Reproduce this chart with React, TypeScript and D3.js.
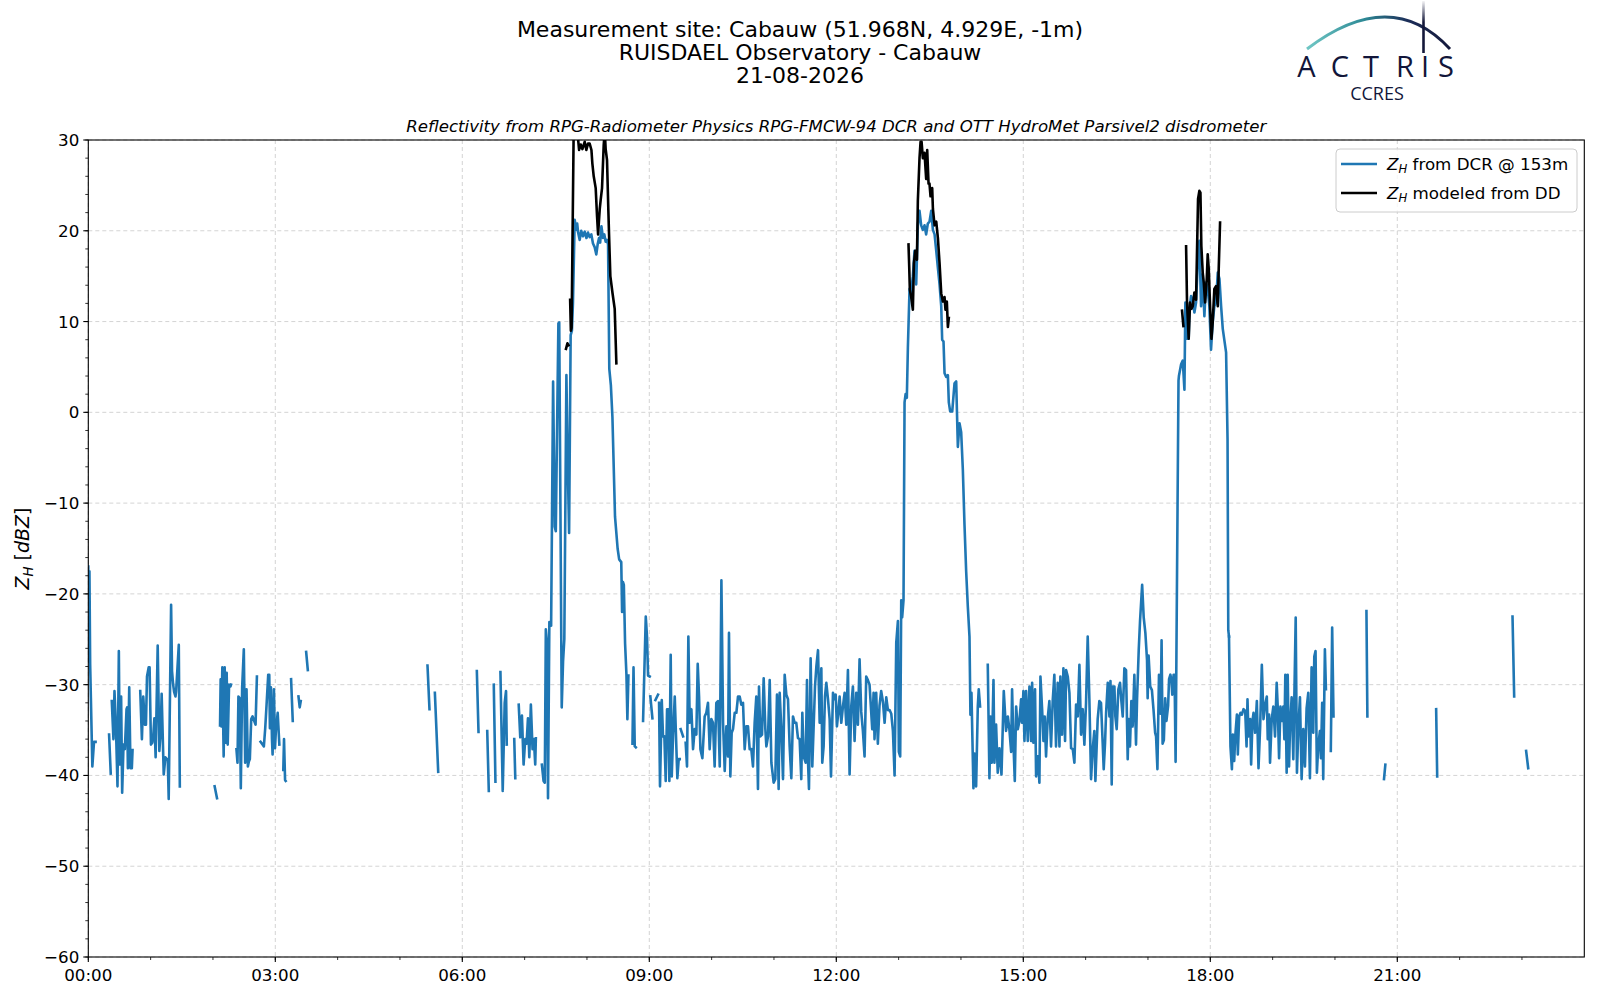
import React from "react";
import * as d3 from "d3";

type Pt = [number, number | null];

// ---------- text ----------
const titleLines = [
  "Measurement site: Cabauw (51.968N, 4.929E, -1m)",
  "RUISDAEL Observatory - Cabauw",
  "21-08-2026",
];
const subtitle =
  "Reflectivity from RPG-Radiometer Physics RPG-FMCW-94 DCR and OTT HydroMet Parsivel2 disdrometer";

// ---------- axes ----------
const xTickHours = [0, 3, 6, 9, 12, 15, 18, 21];
const xMinorHours = d3.range(0, 24, 1);
const yMajorTicks = [-60, -50, -40, -30, -20, -10, 0, 10, 20, 30];
const yMinorTicks = d3.range(-60, 31, 2);

// ---------- data: [minutes since 00:00 UTC, dBZ]  (null = gap) ----------
const dcrNight: Pt[] = [
  [0, -17], [0.6, -27.5], [1.1, -17.5], [1.8, -27.8], [3.9, -39], [5.5, -36.3], [7, -36.3], [8, null],
  [20, -35.5], [21.6, -39.8], [22, null],
  [22.6, -31.8], [24.2, -36], [25.2, -30.7], [26.5, -34.2], [28.1, -41.2], [29.4, -26.3], [30.3, -38.8],
  [31.6, -31.3], [32.6, -41.9], [33.9, -36.6], [35.2, -37.1], [36.8, -32.7], [37.4, -32.5], [38.1, -39.2],
  [39.4, -30.3], [40.6, -39.2], [41.9, -39.2], [42.6, -37.2], [45, null],
  [50, -30.7], [51.6, -36], [52.9, -31.3], [54.5, -34.4], [55.5, -34.4], [56.5, -29.1], [58.1, -28.1],
  [59, -28.1], [60.3, -36.6], [61.6, -36.4], [62.6, -35.5], [63.6, -33.7], [64.8, -38], [66.8, -25.7],
  [68.4, -37.3], [69.7, -35], [70.6, -31], [72.6, -39.9], [74.2, -38], [76.5, -38.3], [77.4, -42.6],
  [79.7, -21.2], [80.6, -28.5], [81.6, -29.9], [82.6, -30.8], [83.9, -31.3], [84.5, -30.8], [87.1, -25.6],
  [88.1, -41.2], [90, null],
  [121.6, -41.2], [123.9, -42.5], [125, null],
  [126.8, -34.5], [127.4, -29.4], [128.1, -34.6], [129, -28.1], [130.3, -37.9], [131.3, -28.1], [132.3, -36.4],
  [133.2, -28.7], [134.2, -36.6], [135.5, -30], [136.8, -30.2], [137.4, -30], [140, null],
  [142.6, -37.1], [143.6, -38.6], [144.5, -31.3], [145.8, -31.5], [146.8, -41.4], [148.1, -30.3], [149.7, -26.1],
  [151, -38.6], [152.3, -30.5], [153.6, -39], [154.5, -38.5], [155.5, -38.2], [156.8, -33.8], [158.1, -33.5],
  [161, -34.4], [162.3, -29.1], [164, null],
  [165.8, -36.3], [167.7, -36.6], [169, -36.8], [170.3, -34.8], [171.6, -32.2], [173.2, -28.9], [174.2, -28.9],
  [174.8, -34.8], [175.8, -30.3], [176.8, -36], [177.4, -37.7], [178.7, -30.5], [179.7, -37], [180.6, -35],
  [182.3, -33.1], [183.9, -36.6], [186, null],
  [187.7, -39.4], [188.4, -36], [189.4, -40.5], [190, -40.6], [192, null],
  [195.2, -29.4], [196.8, -34], [198, null],
  [202.3, -31.3], [203.5, -32.5], [204.5, -31.8], [206, null],
  [209.7, -26.4], [211.3, -28.4], [213, null],
];

const dcrMorning: Pt[] = [
  [326.5, -27.9], [328.4, -32.7], [330, null],
  [333.6, -30.9], [336.8, -39.6], [338, null],
  [374, -28.5], [375.6, -35.2], [377, null],
  [384, -35.1], [385.5, -41.7], [387, null],
  [390.3, -30], [391.9, -40.7], [393, null],
  [396.7, -28.6], [398.9, -41.7], [400.8, -32], [402.1, -30.7], [402.8, -36.6], [405, null],
  [410, -36], [411, -40.3], [412, null],
  [414.3, -32.2], [415.8, -35.8], [417.4, -33.4], [419, -38.8], [420.6, -36], [421.9, -36.5], [423.2, -33.7],
  [424.5, -38], [426, -32.2], [427.6, -37.1], [428.9, -36], [430.2, -38.8], [430.8, -35.9], [433, null],
  [436.6, -38.8], [438.2, -40.6], [439.4, -40.8], [440.4, -23.9], [441.5, -25.3], [442.5, -42.5], [443.8, -23.1],
  [445.5, -23.5], [447.4, 3.4], [449, -12.6], [450, -13.1], [452.5, 9.8], [453.3, 9.9], [455.7, -32.5],
  [457, -27.4], [458.2, -25], [460.2, 4.1], [461.3, -4.5], [462.8, -13.3], [464.3, 8.5], [465.5, 9], [466.5, 12],
  [468.2, 21.2], [469.8, 20.1], [470.6, 20.8], [471.5, 19.8], [473, 19], [474.5, 20], [476.2, 19.4], [477.8, 19.9],
  [479.5, 19.2], [481, 19.8], [482.6, 19.3], [484.2, 19.6], [485.8, 18.6], [487.4, 18.2], [489, 17.4],
  [490.3, 18.5], [491.6, 19.2], [492.7, 18.7], [493.9, 20.5], [495.4, 19.2], [496.7, 19.6], [498, 18.8],
  [499.2, 19], [500.3, 18.5], [501.5, 4.8], [503, 3], [504.5, -0.5], [507, -11.5], [509.5, -15], [511, -16.2],
  [513, -16.5], [513.8, -22], [514.7, -18.7], [515.5, -19], [516.7, -25.5], [518, -28.9], [518.9, -33.8],
  [519.9, -29], [521, null],
  [523.8, -36.5], [524.8, -28.1], [526, -36.8], [527, -36.9], [529, null],
  [534, -34], [536.6, -22.5], [537.8, -24.7], [538.8, -29], [540.4, -29.1], [540.7, null],
  [541, -31.3], [543, -33.7], [544, null],
  [545.9, -31.7], [548.4, -31.1], [548.9, null],
];

const dcrMidday: Pt[] = [
  [549.4, -32], [550.3, -41.2], [552, -31.7], [553.2, -35.7], [554.5, -35.7], [555.8, -40.6], [557.1, -32.7],
  [558.4, -32.7], [559.3, -40.6], [560.6, -26.7], [561.6, -40.1], [562.9, -35.5], [564.5, -31.3], [566.1, -37.1],
  [567, -40.3], [568.3, -38.2], [569.3, -38.2], [569.8, null],
  [570.2, -34.9], [572.5, -35.7], [573.5, null],
  [575, -36.4], [576.3, -39], [577.6, -24.7], [578.9, -34.2], [580.5, -32.7], [582.1, -37.1], [583.7, -34.9],
  [585.3, -35.5], [586.6, -27.7], [587.9, -31.3], [589.2, -37.1], [591.1, -38.1], [593.3, -33.5], [594.9, -33.1],
  [596.5, -32], [598.1, -37.1], [599.7, -33.8], [601.3, -34.2], [602.9, -39], [604.5, -32], [606.1, -31.8],
  [607.8, -39], [609.4, -18.5], [611, -34.2], [612.6, -39.5], [614.2, -34.6], [615.8, -37.9], [616.7, -24.3],
  [618, -40.1], [619.3, -35.3], [620.6, -34.9], [622.2, -33.1], [623.8, -33.1], [625.4, -31.3], [627, -31.3],
  [628.6, -32.2], [630.2, -32], [631.8, -37.1], [633.4, -34.6], [635, -34.6], [636.6, -37.1], [638.2, -37.1],
  [639.8, -39], [641.4, -34.2], [643, -31.3], [644.6, -41.5], [645.6, -30.2], [646.9, -35.7], [648.5, -35.5],
  [650.1, -29.3], [651.7, -34.9], [652.7, -36.8], [654.3, -35.7], [655.9, -29.5], [657.5, -38.6], [659.7, -40.8],
  [661.3, -40.4], [662.9, -31.1], [664.5, -41.5], [665.5, -30.9], [667.1, -34.9], [668.7, -40.4], [670.3, -28.9],
  [671.9, -31.1], [673.5, -31.6], [675.1, -36.8], [676.7, -40.3], [678.3, -33.5], [679.9, -34.2], [681.5, -34.2],
  [683.1, -35.9], [684.7, -36], [686.3, -40.4], [687.3, -33.1], [688.6, -37.9], [690.5, -38.6], [691.8, -29.5],
  [692.7, -38.2], [693.7, -41.5], [695.3, -27.1], [696.9, -39], [698.2, -34.6], [699.5, -30.2], [700.8, -28],
  [702.4, -26.2], [704, -34.2], [705.6, -28.2], [706.5, -38.6], [707.8, -36.8], [709.1, -31.3], [710.4, -29.8],
  [712, -31.6], [713.6, -33.8], [714.9, -40.1], [716.8, -30.9], [718.4, -31.6], [719.4, -31.1], [720.6, -34.6],
  [721.9, -33.1], [723.2, -31.3], [724.8, -34.2], [726.4, -32.4], [728, -30.9], [729.6, -34.4], [731.2, -28.4],
  [732.8, -39.9], [734.4, -32.4], [736, -30.2], [737.6, -36.2], [739.2, -30.9], [740.8, -34.4], [742.4, -27.2],
  [744, -33], [745.6, -35.1], [747.2, -37.9], [748.8, -29.1], [750.4, -29.5], [752, -30], [754.6, -34.9],
  [755.9, -30.9], [756.8, -36], [758.4, -30.9], [760, -36.5], [761.6, -32.3], [763.2, -30.7], [764.9, -31.9],
  [766.5, -34.2], [768.1, -31.4], [769.7, -32.8], [771.3, -32.8], [772.9, -33.2], [774.5, -35.1], [776.1, -40],
  [777.7, -25.4], [779.3, -23], [780.2, -37.4], [781.5, -37.9], [782.5, -20.7], [783.4, -22.6], [784.7, -20.7],
  [785.7, 1.1], [786.7, 2], [787.9, 1.6], [788.9, 7.1], [790.5, 13.6], [791.5, 12.7], [793.7, 15], [795.3, 17.8],
  [796.9, 14.1], [798.5, 20.6], [800.1, 22.2], [801.7, 20.6], [803.3, 20.1], [804.9, 20.6], [806.5, 19.6],
  [808.1, 20.8], [809.7, 21], [811.4, 22.2], [813, 20.1], [814.6, 19.6], [816.2, 17.8], [817.8, 15.9],
  [819.4, 14.1], [821, 11.7], [821.9, 8], [823.2, 7.8], [824.2, 4.3], [825.8, 3.9], [827.4, 4.1], [828.3, 1.1],
  [829.6, 0.1], [831.6, 0.1], [833.8, 3.2], [835.4, 3.4], [837, -3.8], [838.6, -1.2], [840.2, -2.2],
  [841.8, -6.3], [843.4, -12.4], [845, -17.5], [846.6, -21.4], [848.2, -24.7], [849.1, -33.3], [850.1, -30.9],
  [852, -41.4], [853, -37.6], [854.6, -41.2], [856.2, -32.4], [857.1, -30.5], [858.4, -32.4], [860, null],
];

const dcrAfternoon: Pt[] = [
  [865.8, -27.8], [867.4, -40.3], [868.4, -33.5], [869.6, -38.6], [871.3, -29.5], [872.2, -38.6], [873.8, -34.4],
  [875.4, -39.7], [877, -37], [879, -39.9], [881.2, -30.7], [883.4, -35.1], [885.1, -33.5], [886.6, -34.9],
  [888.3, -37.4], [889.2, -30.5], [890.5, -36.4], [891.8, -40.6], [893.1, -32.4], [894.7, -34.9], [896.3, -34],
  [897.9, -31.6], [898.8, -34.2], [900.1, -30.7], [901.1, -36.2], [902.7, -30.7], [904.3, -36.2], [905.9, -30.2],
  [907.5, -36.2], [908.5, -29.8], [909.7, -36.4], [911.3, -30.5], [912.3, -40.1], [913.9, -37.9], [915.5, -40.8],
  [916.5, -29.1], [918.1, -32.7], [919.4, -36.2], [920.6, -33.5], [921.9, -37.9], [923.5, -33.7], [925.1, -31.8],
  [926.7, -36.8], [928.3, -31.8], [929.9, -28.9], [931.5, -36.8], [933.1, -29.8], [934.8, -36.8], [935.7, -29.1],
  [937.3, -35.5], [938.6, -28.2], [940.2, -36.2], [941.2, -28.4], [942.8, -29.1], [944.4, -30.9], [946, -37],
  [947.6, -37.1], [949.2, -38.6], [950.8, -32.2], [952.4, -33.5], [954, -27.8], [955.6, -35.5], [957.2, -32.7],
  [958.8, -36.6], [960.4, -32], [962, -24.7], [963.6, -31.6], [965.2, -40.4], [966.8, -37.1], [968.4, -35.1],
  [969.4, -40.6], [971.6, -33.8], [973.2, -31.8], [974.8, -32], [976.4, -36.4], [977.4, -39.3], [978.7, -36.4],
  [979.7, -33.1], [981.3, -29.8], [982.9, -33.5], [983.9, -29.6], [985.1, -41], [986.1, -30.2], [987.7, -30.2],
  [988.6, -33.5], [989.9, -34.9], [991.5, -30.5], [993.1, -29.8], [994.4, -31.8], [995.7, -33.5], [997.3, -28.2],
  [998.9, -28.4], [1000.5, -38.2], [1001.5, -33.8], [1002.7, -36.8], [1004, -31.8], [1005.3, -34.6],
  [1006.9, -28.9], [1008.5, -36.6], [1009.5, -31.6], [1011.1, -26.2], [1012.4, -22.9], [1014.4, -19],
  [1015.9, -22.6], [1017.5, -24.3], [1019.1, -27.3], [1019.7, -31.5], [1020.6, -26.8], [1022.2, -30.2],
  [1023.8, -30.6], [1025.3, -32.7], [1026.9, -35.3], [1027.8, -35.7], [1029.1, -39.3], [1030.6, -28.9],
  [1032.2, -33.2], [1033.1, -25.1], [1034.1, -36.5], [1035.3, -36.1], [1036.6, -31.5], [1037.8, -34],
  [1039.4, -32.3], [1040.3, -29.4], [1041.6, -28.9], [1042.5, -29.4], [1043.4, -31.1], [1044.7, -28.9],
  [1045.6, -28.9], [1046.6, -38.5], [1049.4, 3.5], [1049.8, 4], [1051.9, 5.3], [1053.5, 5.7], [1055.1, 2.5],
  [1056, 12.1], [1057.3, 8.1], [1059.2, 8.1], [1059.9, 11.4], [1061.5, 12.8], [1063.1, 12.4], [1064.7, 11],
  [1066.3, 12.1], [1067.9, 16.5], [1069.5, 18.9], [1071.1, 11.7], [1072.7, 15.2], [1074.3, 10.6],
  [1075.9, 14.3], [1077.5, 13.6], [1079.1, 11.7], [1080.7, 6.9], [1082.3, 9.9], [1083.9, 11.7], [1085.5, 12.1],
  [1087.2, 15.4], [1088.8, 14.7], [1090.4, 11.7], [1092, 9.2], [1095.2, 6.6], [1096.6, -3], [1097.3, -24],
  [1098, -24.7],
];

const dcrEvening: Pt[] = [
  [1098, -24.7], [1099.4, -36.8], [1100.8, -39.3], [1101.7, -35.5], [1103, -38.4], [1104, -35.7], [1105.6, -33.3],
  [1106.5, -37.7], [1107.8, -33.5], [1109.1, -33.1], [1110.4, -33.3], [1112, -32.7], [1113.6, -32.9],
  [1114.9, -36.8], [1115.8, -31.6], [1116.8, -35.7], [1118.4, -33.8], [1119.3, -38.8], [1120.6, -34],
  [1121.6, -33.1], [1123.2, -35.3], [1124.8, -31.8], [1126.4, -39.2], [1128, -34.6], [1129.6, -27.8],
  [1131.2, -33.8], [1132.8, -32.2], [1134.4, -31.3], [1135.3, -36], [1136.6, -33.3], [1137.5, -38.6],
  [1139.1, -33.8], [1140.7, -32.4], [1142.3, -35.7], [1143.9, -29.8], [1144.9, -32.4], [1146.2, -38.1],
  [1147.5, -32.4], [1148.7, -34], [1150.3, -32.4], [1151.3, -36], [1152.2, -28.9], [1153.5, -39.7],
  [1154.5, -28.9], [1155.8, -39], [1156.7, -34.8], [1158.3, -31.4], [1159.9, -38.2], [1160.9, -31.4],
  [1162.2, -22.6], [1163.4, -39.7], [1164.7, -34.9], [1166.3, -31.4], [1167.9, -40.4], [1169.5, -34.9],
  [1171.1, -39], [1172.7, -32.6], [1174.3, -30.9], [1175.9, -40.3], [1177.5, -28.1], [1179.1, -35.3],
  [1180.1, -26.9], [1181.3, -26.3], [1182.6, -39.7], [1183.9, -36.8], [1185.5, -35.1], [1186.5, -38.1],
  [1187.7, -32], [1188.7, -40.4], [1190.3, -26.1], [1191.3, -30.5], [1193, null],
  [1196, -37.3], [1197.3, -23.7], [1198.6, -33.5], [1200, null],
  [1230.3, -21.9], [1231.2, -33.5], [1233, null],
  [1247.2, -40.4], [1248.5, -38.8], [1250, null],
  [1297.4, -32.7], [1298.4, -40.1], [1300, null],
  [1370.9, -22.5], [1372.5, -31.3], [1374, null],
  [1384, -37.3], [1386, -39.2],
];

const ddShower1: Pt[] = [
  [459.8, 7], [461.2, 7.6], [462.2, 7.4], [463, null],
  [463.8, 12.4], [464.5, 9], [465.2, 9.3], [467.2, 31], [468.2, 33], [470, 32], [472.4, 28.9], [474, 29.5],
  [475.6, 29], [477.8, 29.8], [479.4, 28.9], [481, 29.6], [482.6, 29.6], [484.3, 28.9], [485.2, 27.4],
  [486.5, 26], [488.4, 24.7], [489.7, 21.6], [490.7, 19.6], [492.3, 22.4], [493.2, 23.4], [494.5, 24.7],
  [496.1, 29.4], [497.1, 31], [498, 29], [499.3, 27.8], [500.6, 22.2], [501.2, 19.8], [502.5, 15],
  [504.5, 13.2], [506.7, 11.4], [508.3, 5.4],
];

const ddShower2: Pt[] = [
  [789.5, 18.5], [790.2, 16], [790.8, 13.5], [792.1, 12.7], [793.7, 11.3], [794.7, 16.4], [796, 17.8],
  [797.6, 16.8], [798.5, 23.3], [800.1, 28], [801.1, 29.8], [802.1, 29.8], [803.3, 28], [804.9, 28.6],
  [806.5, 25.7], [807.5, 28.9], [808.8, 25.2], [809.7, 25.2], [810.7, 23.8], [812.3, 24.7], [813, 22.4],
  [814.6, 20.6], [816.2, 21], [817.8, 19.2], [819.4, 16.4], [821, 13.1], [822.6, 12.2], [824.2, 12.7],
  [825.1, 11.3], [826.4, 12.2], [827.4, 9.4], [828.3, 10.4],
];

const ddShower3: Pt[] = [
  [1052.8, 11.2], [1054.1, 9.5], [1055, null],
  [1056.7, 18.3], [1057.6, 12.1], [1059.2, 8.1], [1060.5, 12.1], [1061.8, 11.4], [1063.1, 11.7], [1064.7, 13.2],
  [1066.3, 12.4], [1068.2, 23.5], [1069.5, 24.4], [1070.5, 24.2], [1071.4, 18.3], [1072.7, 15.4],
  [1073.7, 14.3], [1075, 12.1], [1076.6, 14.7], [1077.5, 17.4], [1078.5, 15.8], [1079.8, 11.7], [1081.1, 8.1],
  [1082.3, 9.9], [1083.9, 13.6], [1085.5, 13.9], [1087.2, 11.7], [1088.1, 15.8], [1089.4, 20.9],
];

const dcrSeries = [dcrNight, dcrMorning, dcrMidday, dcrAfternoon, dcrEvening];
const ddSeries = [ddShower1, ddShower2, ddShower3];

// ---------- layout ----------
const W = 1600;
const H = 1000;
const PL = 88.3;
const PR = 1584.3;
const PT = 140;
const PB = 957;
const FONT = "'DejaVu Sans', 'Liberation Sans', sans-serif";
const BLUE = "#1f77b4";
const TICK_FS = 16.7;

const x = d3.scaleLinear().domain([0, 1440]).range([PL, PR]);
const y = d3.scaleLinear().domain([-60, 30]).range([PB, PT]);

const line = d3
  .line<Pt>()
  .defined((d) => d[1] !== null)
  .x((d) => x(d[0]))
  .y((d) => y(d[1] as number));

const fmtY = (v: number) => (v < 0 ? "\u2212" + Math.abs(v) : String(v));
const fmtX = (h: number) => `${String(h).padStart(2, "0")}:00`;

function ZH({ size }: { size: number }) {
  return (
    <>
      <tspan fontStyle="italic">Z</tspan>
      <tspan fontStyle="italic" fontSize={size * 0.7} dy={size * 0.22}>
        H
      </tspan>
    </>
  );
}

const logoLetters = ["A", "C", "T", "R", "I", "S"];
const logoLetterX = [1306.5, 1340, 1371, 1405, 1425, 1446];

export default function App() {
  return (
    <svg
      width={W}
      height={H}
      viewBox={`0 0 ${W} ${H}`}
      style={{ position: "absolute", left: 0, top: 0, background: "#fff" }}
      fontFamily={FONT}
    >
      <defs>
        <clipPath id="plotClip">
          <rect x={PL} y={PT} width={PR - PL} height={PB - PT} />
        </clipPath>
        <linearGradient id="arcGrad" gradientUnits="userSpaceOnUse" x1="1305" y1="0" x2="1452" y2="0">
          <stop offset="0" stopColor="#72c9c6" />
          <stop offset="0.4" stopColor="#2e8a96" />
          <stop offset="0.7" stopColor="#1c2d58" />
          <stop offset="1" stopColor="#14183a" />
        </linearGradient>
        <linearGradient id="poleGrad" gradientUnits="userSpaceOnUse" x1="0" y1="1" x2="0" y2="54">
          <stop offset="0" stopColor="#14183a" stopOpacity="0.05" />
          <stop offset="0.4" stopColor="#14183a" stopOpacity="1" />
          <stop offset="1" stopColor="#14183a" stopOpacity="1" />
        </linearGradient>
      </defs>
      <rect x={0} y={0} width={W} height={H} fill="#fff" />

      {/* titles */}
      {titleLines.map((t, i) => (
        <text key={t} x={800} y={36.5 + i * 23.4} textAnchor="middle" fontSize={22} fill="#000">
          {t}
        </text>
      ))}
      <text x={(PL + PR) / 2} y={131.5} textAnchor="middle" fontSize={16.6} fontStyle="italic" fill="#000">
        {subtitle}
      </text>

      {/* logo */}
      <g>
        <path d="M1307,49 Q1391,-15 1450,49" fill="none" stroke="url(#arcGrad)" strokeWidth={3} />
        <line x1={1423.5} y1={1} x2={1423.5} y2={53} stroke="url(#poleGrad)" strokeWidth={2.6} />
        {logoLetters.map((c, i) => (
          <text
            key={c + i}
            x={logoLetterX[i]}
            y={77}
            textAnchor="middle"
            fontSize={29}
            fontFamily="'Open Sans', 'Lato', sans-serif"
            fill="#12163a"
          >
            {c}
          </text>
        ))}
        <text x={1377} y={99.5} textAnchor="middle" fontSize={18} fontFamily="'Open Sans', sans-serif" fill="#12163a">
          CCRES
        </text>
      </g>

      {/* grid */}
      <g stroke="#cfcfcf" strokeWidth={0.9} strokeDasharray="4,3">
        {xTickHours.map((h) => (
          <line key={"gx" + h} x1={x(h * 60)} x2={x(h * 60)} y1={PT} y2={PB} />
        ))}
        {yMajorTicks.map((v) => (
          <line key={"gy" + v} x1={PL} x2={PR} y1={y(v)} y2={y(v)} />
        ))}
      </g>

      {/* data */}
      <g clipPath="url(#plotClip)" fill="none" strokeLinejoin="round" strokeLinecap="square">
        {dcrSeries.map((s, i) => (
          <path key={"dcr" + i} d={line(s) || ""} stroke={BLUE} strokeWidth={2.6} />
        ))}
        {ddSeries.map((s, i) => (
          <path key={"dd" + i} d={line(s) || ""} stroke="#000" strokeWidth={2.6} />
        ))}
      </g>

      {/* axes frame */}
      <rect x={PL} y={PT} width={PR - PL} height={PB - PT} fill="none" stroke="#000" strokeWidth={1.1} />

      {/* ticks */}
      <g stroke="#000">
        {xMinorHours.map((h) => (
          <line key={"mx" + h} x1={x(h * 60)} x2={x(h * 60)} y1={PB} y2={PB + 3} strokeWidth={0.8} />
        ))}
        {xTickHours.map((h) => (
          <line key={"tx" + h} x1={x(h * 60)} x2={x(h * 60)} y1={PB} y2={PB + 5} strokeWidth={1.1} />
        ))}
        {yMinorTicks.map((v) => (
          <line key={"my" + v} x1={PL - 3} x2={PL} y1={y(v)} y2={y(v)} strokeWidth={0.8} />
        ))}
        {yMajorTicks.map((v) => (
          <line key={"ty" + v} x1={PL - 5} x2={PL} y1={y(v)} y2={y(v)} strokeWidth={1.1} />
        ))}
      </g>
      <g fontSize={TICK_FS} fill="#000">
        {xTickHours.map((h) => (
          <text key={"lx" + h} x={x(h * 60)} y={PB + 23.5} textAnchor="middle">
            {fmtX(h)}
          </text>
        ))}
        {yMajorTicks.map((v) => (
          <text key={"ly" + v} x={PL - 9} y={y(v)} dy="0.36em" textAnchor="end">
            {fmtY(v)}
          </text>
        ))}
      </g>

      {/* y label */}
      <text
        transform={`translate(29,${(PT + PB) / 2}) rotate(-90)`}
        textAnchor="middle"
        fontSize={19}
        fill="#000"
      >
        <ZH size={19} />
        <tspan dy={-19 * 0.22}> [</tspan>
        <tspan fontStyle="italic">dBZ</tspan>
        <tspan>]</tspan>
      </text>

      {/* legend */}
      <g>
        <rect x={1336} y={149} width={241} height={63} rx={4} fill="#fff" fillOpacity={0.8} stroke="#cccccc" strokeWidth={1} />
        <line x1={1341} x2={1377} y1={164} y2={164} stroke={BLUE} strokeWidth={2.6} />
        <line x1={1341} x2={1377} y1={193} y2={193} stroke="#000" strokeWidth={2.6} />
        <text x={1387} y={169.5} fontSize={16.7} fill="#000">
          <ZH size={16.7} />
          <tspan dy={-16.7 * 0.22}> from DCR @ 153m</tspan>
        </text>
        <text x={1387} y={198.5} fontSize={16.7} fill="#000">
          <ZH size={16.7} />
          <tspan dy={-16.7 * 0.22}> modeled from DD</tspan>
        </text>
      </g>
    </svg>
  );
}
